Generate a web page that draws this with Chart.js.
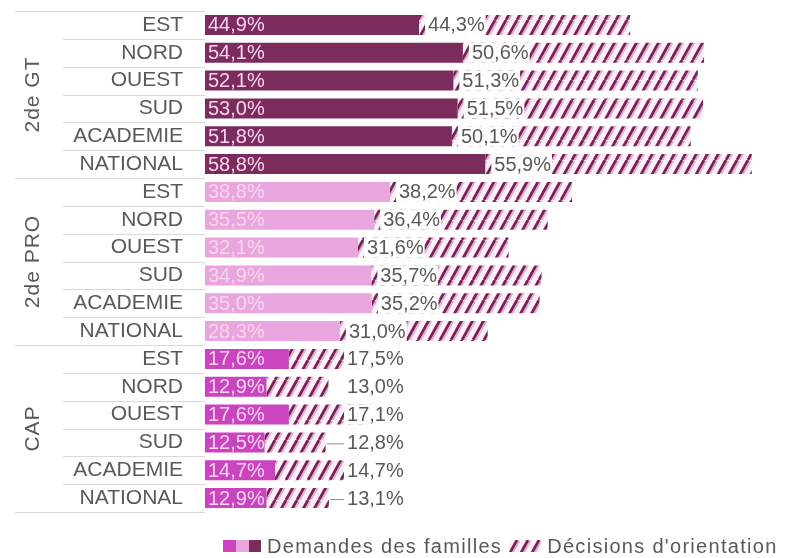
<!DOCTYPE html>
<html>
<head>
<meta charset="utf-8">
<script src="https://cdn.jsdelivr.net/npm/chart.js@4.4.1/dist/chart.umd.min.js"></script>
<style>
html, body { margin: 0; padding: 0; background: #fff; }
#zone { width: 787px; height: 558px; }
</style>
</head>
<body>
<div id="zone"><canvas id="grafico"></canvas></div>
<script>
// Catégories
const groupes = ["2de GT", "2de PRO", "CAP"];
const territoires = ["EST", "NORD", "OUEST", "SUD", "ACADEMIE", "NATIONAL"];

// Demandes des familles (%)
const demandesGT = [44.9, 54.1, 52.1, 53.0, 51.8, 58.8];
const demandesPRO = [38.8, 35.5, 32.1, 34.9, 35.0, 28.3];
const demandesCAP = [17.6, 12.9, 17.6, 12.5, 14.7, 12.9];

// Décisions d'orientation (%)
const decisionsGT = [44.3, 50.6, 51.3, 51.5, 50.1, 55.9];
const decisionsPRO = [38.2, 36.4, 31.6, 35.7, 35.2, 31.0];
const decisionsCAP = [17.5, 13.0, 17.1, 12.8, 14.7, 13.1];

const couleursGroupes = ["#7b2c5c", "#e9a6de", "#cb44bf"];
const police = "'Liberation Sans', Arial, sans-serif";
const gris = "#595959";

// une ligne par territoire, groupe par groupe
const etiquettes = [].concat(territoires, territoires, territoires);
const demandes = [].concat(demandesGT, demandesPRO, demandesCAP);
const decisions = [].concat(decisionsGT, decisionsPRO, decisionsCAP);
const couleursBarres = etiquettes.map((t, i) => couleursGroupes[Math.floor(i / 6)]);

// motif hachuré des décisions
function creerHachure(ctx) {
    const c = document.createElement("canvas");
    c.width = 11; c.height = 20;
    const g = c.getContext("2d");
    g.fillStyle = "#fdf1f9";
    g.fillRect(0, 0, 11, 20);
    for (const dx of [-11, 0, 11]) {
        g.strokeStyle = "#eba9da";
        g.lineWidth = 5;
        g.beginPath(); g.moveTo(dx + 1, 20); g.lineTo(dx + 12, 0); g.stroke();
        g.strokeStyle = "#6e2550";
        g.lineWidth = 2.6;
        g.beginPath(); g.moveTo(dx, 20); g.lineTo(dx + 11, 0); g.stroke();
    }
    return ctx.createPattern(c, "repeat");
}

const ctx = document.getElementById("grafico").getContext("2d");
const hachure = creerHachure(ctx);

function formater(v) {
    return v.toFixed(1).replace(".", ",") + "%";
}

// lignes de séparation + libellés des groupes
const decorPlugin = {
    id: "decor",
    beforeDatasetsDraw(chart) {
        const c = chart.ctx;
        const y = chart.scales.y;
        const gauche = chart.chartArea.left;
        c.save();
        c.strokeStyle = "#d9d9d9";
        c.lineWidth = 1;
        for (let i = 0; i <= etiquettes.length; i++) {
            const py = Math.round(y.getPixelForValue(i - 0.5)) + 0.5;
            c.beginPath();
            c.moveTo(i % 6 === 0 ? 15 : 63, py);
            c.lineTo(gauche, py);
            c.stroke();
        }
        c.fillStyle = gris;
        c.font = "21px " + police;
        c.textAlign = "center";
        c.textBaseline = "middle";
        groupes.forEach((nom, g) => {
            c.save();
            c.translate(33, y.getPixelForValue(g * 6 + 2.5));
            c.rotate(-Math.PI / 2);
            c.letterSpacing = "1px";
            c.fillText(nom, 0, 0);
            c.restore();
        });
        c.restore();
    },
    afterDatasetsDraw(chart) {
        const c = chart.ctx;
        const x = chart.scales.x;
        c.save();
        c.font = "20px " + police;
        c.textBaseline = "middle";
        c.textAlign = "left";
        // valeurs des demandes dans la barre pleine
        chart.getDatasetMeta(0).data.forEach((bar, i) => {
            c.fillStyle = "#f7d4ee";
            c.fillText(formater(demandes[i]), bar.base + 3, bar.y + 1);
        });
        // valeurs des décisions
        const colonneCAP = x.getPixelForValue(29.8);
        chart.getDatasetMeta(1).data.forEach((bar, i) => {
            const txt = formater(decisions[i]);
            const w = c.measureText(txt).width;
            let tx;
            if (i < 12) {
                tx = bar.base + 9;
            } else {
                tx = colonneCAP;
                if (i === 15 || i === 17) {
                    c.strokeStyle = "#8c8c8c";
                    c.lineWidth = 1;
                    c.beginPath();
                    c.moveTo(bar.x + 1, bar.y + 1.5);
                    c.lineTo(tx - 2, bar.y + 1.5);
                    c.stroke();
                }
            }
            c.fillStyle = "#fff";
            c.fillRect(tx - 3, bar.y - 10, w + 4, 20);
            c.fillStyle = gris;
            c.fillText(txt, tx, bar.y + 1);
        });
        c.restore();
    },
    afterDraw(chart) {
        // légende
        const c = chart.ctx;
        const yl = 546;
        c.save();
        c.fillStyle = couleursGroupes[2]; c.fillRect(223, yl - 6, 13, 12);
        c.fillStyle = couleursGroupes[1]; c.fillRect(236, yl - 6, 13, 12);
        c.fillStyle = couleursGroupes[0]; c.fillRect(249, yl - 6, 12, 12);
        c.font = "20px " + police;
        c.letterSpacing = "1.3px";
        c.textBaseline = "middle";
        c.fillStyle = gris;
        const t1 = "Demandes des familles";
        c.fillText(t1, 267, yl + 1);
        const fin1 = 267 + c.measureText(t1).width;
        c.fillStyle = hachure;
        c.fillRect(fin1 + 7, yl - 6, 32, 12);
        c.fillStyle = gris;
        c.fillText("Décisions d'orientation", fin1 + 45, yl + 1);
        c.restore();
    }
};

new Chart(ctx, {
    type: "bar",
    data: {
        labels: etiquettes,
        datasets: [{
            label: "Demandes des familles",
            data: demandes,
            backgroundColor: couleursBarres,
            borderWidth: 0,
            barPercentage: 0.72,
            categoryPercentage: 1
        }, {
            label: "Décisions d'orientation",
            data: decisions,
            backgroundColor: hachure,
            borderWidth: 0,
            barPercentage: 0.72,
            categoryPercentage: 1
        }]
    },
    options: {
        indexAxis: "y",
        responsive: true,
        maintainAspectRatio: false,
        animation: false,
        layout: { padding: { top: 11, bottom: 46, right: 10, left: 0 } },
        plugins: {
            legend: { display: false },
            tooltip: { enabled: false }
        },
        scales: {
            x: {
                stacked: true,
                min: 0,
                max: 120,
                display: false
            },
            y: {
                stacked: true,
                grid: { display: false, drawTicks: false },
                border: { display: false },
                ticks: {
                    color: gris,
                    padding: 22,
                    font: { size: 21, family: police },
                    autoSkip: false
                },
                afterFit(scale) {
                    scale.width = 205;
                    scale.paddingTop = 0;
                    scale.paddingBottom = 0;
                }
            }
        }
    },
    plugins: [decorPlugin]
});
</script>
</body>
</html>
